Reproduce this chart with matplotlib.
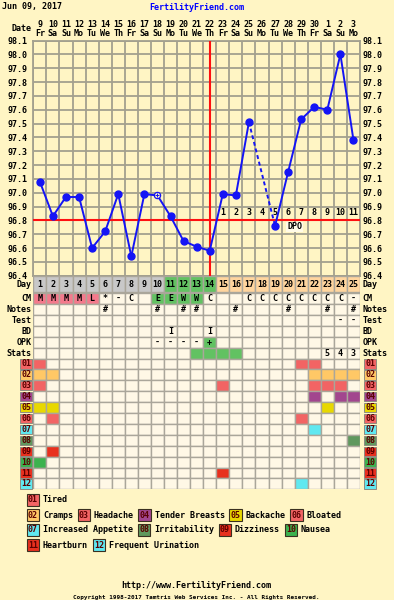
import numpy as np
import matplotlib.pyplot as plt
from matplotlib.patches import Rectangle

plt.rcParams['font.family'] = 'DejaVu Sans Mono'
plt.rcParams['font.weight'] = 'bold'
plt.rcParams['font.size'] = 6

# ---- chart data ----
dates = [9, 10, 11, 12, 13, 14, 15, 16, 17, 18, 19, 20, 21, 22, 23, 24, 25,
         26, 27, 28, 29, 30, 1, 2, 3]
weekdays = ['Fr', 'Sa', 'Su', 'Mo', 'Tu', 'We', 'Th'] * 3 + ['Fr', 'Sa', 'Su', 'Mo']
temps = [97.08, 96.83, 96.97, 96.97, 96.60, 96.72, 96.99, 96.54, 96.99, 96.98,
         96.83, 96.65, 96.61, 96.58, 96.99, 96.98, 97.51, None, 96.76, 97.15,
         97.53, 97.62, 97.60, 98.00, 97.38]
open_days = [10]
cover_temp = 96.8
ovulation_day = 14
dpo_days = list(range(15, 26))

cm = ['M', 'M', 'M', 'M', 'L', '*', '-', 'C', '', 'E', 'E', 'W', 'W', 'C', '',
      '', 'C', 'C', 'C', 'C', 'C', 'C', 'C', 'C', '-']
cm_pink_days = [1, 2, 3, 4, 5]
cm_green_days = [10, 11, 12, 13]
notes_days = [6, 10, 12, 13, 16, 20, 23, 25]
test_marks = {24: '-', 25: '-'}
bd_days = [11, 14]
opk_marks = {10: '-', 11: '-', 12: '-', 13: '-', 14: '+'}
opk_green_days = [14]
stats_green_days = [13, 14, 15, 16]
stats_marks = {23: '5', 24: '4', 25: '3'}
day_green = [11, 12, 13, 14]
day_peach = list(range(15, 26))

symptom_names = ['Tired', 'Cramps', 'Headache', 'Tender Breasts', 'Backache',
                 'Bloated', 'Increased Appetite', 'Irritability', 'Dizziness',
                 'Nausea', 'Heartburn', 'Frequent Urination']
symptom_colors = ['#f26464', '#ffc866', '#f26464', '#a2468e', '#e8d800',
                  '#f26464', '#60e8f0', '#60985e', '#e8301e', '#3cb24e',
                  '#e8301e', '#60e8f0']
symptom_days = {1: [1, 21, 22], 2: [1, 2, 22, 23, 24, 25], 3: [1, 15, 22, 23, 24],
                4: [22, 24, 25], 5: [1, 2, 23], 6: [2, 21], 7: [22], 8: [25],
                9: [2], 10: [1], 11: [15], 12: [21]}
legend_rows = [[1], [2, 3, 4, 5, 6], [7, 8, 9, 10], [11, 12]]
row_labels = ['CM', 'Notes', 'Test', 'BD', 'OPK', 'Stats']

# ---- styles ----
BG = '#fff5c4'
GRIDC = '#a3a08e'
CELL = '#fff8e6'
CELL_EDGE = '#aaa69a'
BLUE = '#1414f5'
RED = '#ff1010'
GREEN = '#62c262'
PINK = '#f47a8c'
GRAY = '#c8c8c8'
PEACH = '#ffd59e'
LBL_TXT = '#5a0000'

W, H = 394, 600
GRID_L, GRID_R, GRID_T, GRID_B = 33.3, 360.0, 40.5, 275.7
COL_W = (GRID_R - GRID_L) / 25
PX_DEG = (GRID_B - GRID_T) / 1.7
ROW_P = 10.9
CM_Y = 298.6
TAB_T = 276.0
TAB_B = CM_Y + 17.5 * ROW_P


def dx(px):
    return 0.5 + (px - GRID_L) / COL_W


def ty(py):
    return 98.1 - (py - GRID_T) / PX_DEG


fig = plt.figure(figsize=(W / 100, H / 100), dpi=100)
fig.patch.set_facecolor(BG)

# overlay in pixel coordinates for header, legend, footer
ov = fig.add_axes([0, 0, 1, 1])
ov.set_xlim(0, W)
ov.set_ylim(H, 0)
ov.axis('off')

ov.text(2, 7, 'Jun 09, 2017', ha='left', va='center')
ov.text(196.5, 7, 'FertilityFriend.com', ha='center', va='center', color='#0000ff')

# ---- temperature chart ----
ax = fig.add_axes([GRID_L / W, 1 - GRID_B / H, (GRID_R - GRID_L) / W, (GRID_B - GRID_T) / H])
ax.set_facecolor(BG)
ax.set_xlim(0.5, 25.5)
ax.set_ylim(96.4, 98.1)
ax.set_xticks(np.arange(0.5, 25.6, 1))
ax.set_xticklabels([])
yt = np.round(np.arange(96.4, 98.11, 0.1), 1)
ax.set_yticks(yt)
ax.set_yticklabels([f'{v:.1f}' for v in yt])
ax.tick_params(length=0, pad=4.5)
ax.grid(True, color=GRIDC, lw=1.3)
for s in ax.spines.values():
    s.set_color(GRIDC)
    s.set_linewidth(1.3)

ax2 = ax.twinx()
ax2.set_ylim(96.4, 98.1)
ax2.set_yticks(yt)
ax2.set_yticklabels([f'{v:.1f}' for v in yt])
ax2.tick_params(length=0, pad=1.7)
for s in ax2.spines.values():
    s.set_visible(False)

days = np.arange(1, 26)
for d, dt, wd in zip(days, dates, weekdays):
    ax.text(d, ty(24), str(dt), ha='center', va='center', clip_on=False)
    ax.text(d, ty(33), wd, ha='center', va='center', clip_on=False)
ax.text(dx(31.7), ty(28.5), 'Date', ha='right', va='center', clip_on=False)

ax.axhline(cover_temp, color=RED, lw=1.5, zorder=3)
ax.axvline(ovulation_day, color=RED, lw=1.5, zorder=3)

for i, d in enumerate(dpo_days):
    ax.text(d, 96.855, str(i + 1), ha='center', va='center', zorder=4)
ax.text(20.5, 96.752, 'DPO', ha='center', va='center', zorder=4,
        bbox=dict(fc='#fffbe8', ec='none', pad=0.6))

pts = [(d, t) for d, t in zip(days, temps) if t is not None]
for (d0, t0), (d1, t1) in zip(pts[:-1], pts[1:]):
    ax.plot([d0, d1], [t0, t1], color=BLUE, lw=1.4, zorder=5,
            ls='-' if d1 - d0 == 1 else (0, (2, 1.5)))
for d, t in pts:
    if d in open_days:
        ax.plot(d, t, 'o', ms=4.5, mfc=BG, mec=BLUE, mew=0.9, zorder=6)
        ax.plot(d, t, '+', ms=3, color=BLUE, mew=0.7, zorder=6)
    else:
        ax.plot(d, t, 'o', ms=5, color=BLUE, zorder=6)

# ---- lower table ----
axt = fig.add_axes([GRID_L / W, 1 - TAB_B / H, (GRID_R - GRID_L) / W, (TAB_B - TAB_T) / H])
axt.set_xlim(0.5, 25.5)
y_top = (TAB_T - CM_Y) / ROW_P
axt.set_ylim(17.5, y_top)
axt.axis('off')


def cell(day, row, fc=CELL, txt=''):
    axt.add_patch(Rectangle((day - 0.5, row - 0.5), 1, 1, fc=fc, ec=CELL_EDGE, lw=1.0))
    if txt:
        axt.text(day, row, txt, ha='center', va='center')


# day row
day_bot = -0.62
for d in days:
    fc = GREEN if d in day_green else (PEACH if d in day_peach else GRAY)
    axt.add_patch(Rectangle((d - 0.5, y_top), 1, day_bot - y_top, fc=fc, ec=CELL_EDGE, lw=1.0))
    axt.text(d, (y_top + day_bot) / 2 + 0.05, str(d), ha='center', va='center')
for x, ha in [(dx(31.7), 'right'), (dx(362.3), 'left')]:
    axt.text(x, -1.3, 'Day', ha=ha, va='center', clip_on=False)
    for r, lab in enumerate(row_labels):
        axt.text(x, r, lab, ha=ha, va='center', clip_on=False)

for d in days:
    i = d - 1
    fc = PINK if d in cm_pink_days else (GREEN if d in cm_green_days else CELL)
    cell(d, 0, fc, cm[i])
    cell(d, 1, CELL, '#' if d in notes_days else '')
    cell(d, 2, CELL, test_marks.get(d, ''))
    cell(d, 3, CELL, 'I' if d in bd_days else '')
    cell(d, 4, GREEN if d in opk_green_days else CELL, opk_marks.get(d, ''))
    cell(d, 5, GREEN if d in stats_green_days else CELL, stats_marks.get(d, ''))
    for s in range(1, 13):
        cell(d, 5 + s, symptom_colors[s - 1] if d in symptom_days[s] else CELL)

bw = 12.3 / COL_W
for s in range(1, 13):
    r = 5 + s
    for x0 in (dx(20), dx(364)):
        axt.add_patch(Rectangle((x0, r - 0.43), bw, 0.86, fc=symptom_colors[s - 1],
                                ec='#8c8a80', lw=0.7, clip_on=False))
        axt.text(x0 + bw / 2, r, f'{s:02d}', ha='center', va='center',
                 color=LBL_TXT, clip_on=False)

# ---- legend ----
CW = 5.02
for ri, row in enumerate(legend_rows):
    x = 26.7
    y = 500 + 15 * ri
    for s in row:
        ov.add_patch(Rectangle((x, y - 5.8), 12.6, 11.6, fc=symptom_colors[s - 1],
                               ec='#3a3020', lw=0.8))
        ov.text(x + 6.3, y, f'{s:02d}', ha='center', va='center', color=LBL_TXT)
        ov.text(x + 16.3, y, symptom_names[s - 1], ha='left', va='center')
        x += 16.3 + len(symptom_names[s - 1]) * CW + 4.4

ov.text(196.5, 586, 'http://www.FertilityFriend.com', ha='center', va='center')
ov.text(196.5, 597, 'Copyright 1998-2017 Tamtris Web Services Inc. - All Rights Reserved.',
        ha='center', va='center', fontsize=4.3)

fig.savefig('out.png', dpi=100, facecolor=BG)
